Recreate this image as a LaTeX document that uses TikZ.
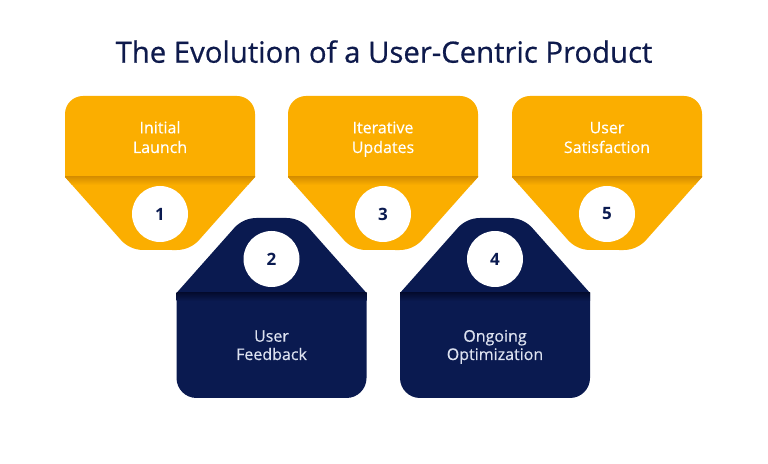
\documentclass[tikz,border=0pt]{standalone}
\usepackage{fontspec}
\setmainfont{Open Sans}
\newfontfamily\medfont{Open Sans}[FakeBold=0.6]
\newfontfamily\lblfont{Open Sans}[FakeBold=0.4]
\definecolor{ylw}{HTML}{FBAE00}
\definecolor{ylwdark}{HTML}{D89000}
\definecolor{navy}{HTML}{0A1A50}
\definecolor{navydark}{HTML}{040C30}
\definecolor{navytext}{HTML}{DDE2F0}
\definecolor{titlecol}{HTML}{0E1A4C}
\def\ypath{(-95,286) -- (-95,349) arc[start angle=180,end angle=90,radius=18] -- (77,367) arc[start angle=90,end angle=0,radius=18] -- (95,286) -- (39.14,223.08) arc[start angle=-41.6,end angle=-90,radius=30] -- (-16.7,213) arc[start angle=-90,end angle=-138.4,radius=30] -- cycle}
\def\npath{(-95,170) -- (-95,85) arc[start angle=180,end angle=270,radius=20] -- (75,65) arc[start angle=270,end angle=360,radius=20] -- (95,170) -- (37.39,234.92) arc[start angle=41.6,end angle=90,radius=30] -- (-14.95,245) arc[start angle=90,end angle=138.4,radius=30] -- cycle}
\tikzset{
  lbl/.style={font=\lblfont\fontsize{16}{20}\selectfont, anchor=base, inner sep=0pt},
  numcirc/.style={circle, fill=white, minimum size=56pt, inner sep=0pt, text=navy, font=\fontsize{17}{20}\selectfont\bfseries},
  titlestyle/.style={font=\medfont\fontsize{29.3}{34}\selectfont, text=titlecol, anchor=base, inner sep=0pt}
}
\newcommand\yshape[5]{%
  \begin{scope}[xshift=#1pt]
    \fill[ylw] \ypath;
    \begin{scope}
      \clip \ypath;
      \shade[top color=ylwdark, bottom color=ylw] (-96,278) rectangle (96,286);
    \end{scope}
    \node[numcirc] (#2c) at (0,249) {#5};
    \node[lbl, text=white] (#2a) at (0,329.7) {#3};
    \node[lbl, text=white] (#2b) at (0,310) {#4};
  \end{scope}}
\newcommand\nshape[5]{%
  \begin{scope}[xshift=#1pt]
    \fill[navy] \npath;
    \shade[top color=navydark, bottom color=navy] (-95,162) rectangle (95,170);
    \node[numcirc] (#2c) at (0,204) {#5};
    \node[lbl, text=navytext] (#2a) at (0,121.3) {#3};
    \node[lbl, text=navytext] (#2b) at (0,103) {#4};
  \end{scope}}
\begin{document}
\begin{tikzpicture}[x=1pt,y=1pt]
  \useasboundingbox (0,0) rectangle (768,463);
  \fill[white] (0,0) rectangle (768,463);
  \node[titlestyle] (title) at (384,400.3) {The Evolution of a User-Centric Product};
  \yshape{160}{s1}{Initial}{Launch}{1}
  \nshape{271.5}{s2}{User}{Feedback}{2}
  \yshape{383}{s3}{Iterative}{Updates}{3}
  \nshape{495}{s4}{Ongoing}{Optimization}{4}
  \yshape{607}{s5}{User}{Satisfaction}{5}
\end{tikzpicture}
\end{document}
